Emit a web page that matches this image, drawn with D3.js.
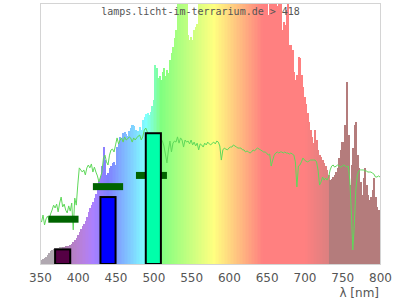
<!DOCTYPE html>
<html><head><meta charset="utf-8">
<script src="https://cdn.jsdelivr.net/npm/d3@7"></script>
<style>body{margin:0;background:#fff}svg{display:block}</style>
</head><body>
<svg id="c" width="400" height="300"></svg>
<script>
// ---- data ----
const specStart = 350, specStep = 2;
// lamp spectrum, relative (100 = top of plot), one value per 2 nm from 350 to 800
const spectrum = [
  1.2, 1.5, 1.9, 2.3, 2.7, 3.5, 4.2, 5.0, 5.4, 5.8,            // 350-368
  6.1, 6.1, 6.1, 6.5, 6.5, 6.5, 6.5, 6.9, 6.9, 6.9,            // 370-388
  7.3, 7.7, 8.4, 9.2, 10.0, 11.1, 12.3, 13.4, 14.6, 15.4,      // 390-408
  16.5, 18.0, 20.0, 21.5, 22.6, 23.8, 25.3, 26.9, 29.2, 31.9,  // 410-428
  33.8, 37.6, 44.9, 39.9, 34.2, 34.9, 36.9, 37.6, 38.8, 39.2,  // 430-448
  38.0, 44.9, 46.4, 48.8, 48.4, 50.3, 50.7, 49.9, 49.1, 51.1,  // 450-468
  52.2, 53.4, 53.0, 51.4, 50.3, 51.1, 52.6, 51.4, 55.3, 56.4,  // 470-488
  57.6, 58.0, 57.2, 58.3, 60.7, 63.0, 76.4, 75.2, 71.4, 72.2,  // 490-508
  70.6, 73.7, 75.2, 72.2, 74.5, 73.3, 78.3, 81.0, 83.3, 86.8,  // 510-528
  89.8, 112, 125, 135, 128, 140, 118, 130, 88, 86,             // 530-548
  87, 86, 90, 91, 92, 105, 118, 130, 142, 150,                 // 550-568
  160, 165, 172, 178, 181, 186, 188, 191, 193, 190,            // 570-588
  188, 185, 184, 181, 177, 176, 170, 168, 164, 161,            // 590-608
  158, 154, 151, 148, 145, 142, 139, 137, 135, 131,            // 610-628
  130, 127, 125, 122, 119, 118, 114, 112, 110, 107,            // 630-648
  106, 95.5, 104, 108, 106, 104, 103, 99, 104, 102,            // 650-668
  89.8, 92.9, 91.7, 97.5, 110, 84.1, 84.1, 82.1, 73.7, 70.6,   // 670-688
  72.6, 79.5, 79.1, 72.6, 67.9, 64.1, 61.4, 58.0, 54.5, 51.4,  // 690-708
  48.8, 46.4, 51.4, 47.6, 43.8, 41.8, 41.1, 39.9, 38.8, 37.6,  // 710-728
  36.1, 34.2, 32.2, 32.6, 33.4, 34.2, 35.3, 36.9, 40.7, 43.8,  // 730-748
  46.8, 40.7, 53.4, 69.9, 49.5, 30.3, 38.0, 44.5, 53.4, 54.5,  // 750-768
  41.8, 36.9, 31.5, 26.5, 33.0, 36.9, 30.3, 26.5, 24.6, 25.7,  // 770-788
  28.4, 33.0, 25.7, 21.9, 20.7, 19.6                           // 790-800
];
// reference (daylight) curve, same grid
const daylight = [
  16.9, 16.1, 18.8, 15.0, 17.3, 18.4, 16.9, 19.2, 20.7, 22.6,  // 350-368
  21.5, 23.0, 20.0, 23.4, 25.7, 21.9, 23.0, 20.7, 19.6, 22.3,  // 370-388
  20.3, 23.4, 13.1, 25.3, 22.6, 30.3, 36.9, 36.1, 35.3, 36.1,  // 390-408
  34.2, 36.9, 38.0, 36.9, 38.4, 35.3, 37.2, 35.3, 33.8, 31.5,  // 410-428
  33.4, 35.3, 40.7, 41.8, 39.2, 38.0, 41.8, 43.8, 44.1, 43.0,  // 430-448
  45.7, 48.4, 46.1, 47.6, 48.4, 46.8, 48.8, 47.6, 48.0, 48.8,  // 450-468
  48.4, 46.8, 48.4, 47.6, 48.4, 49.1, 49.5, 47.6, 48.8, 51.4,  // 470-488
  52.2, 50.7, 49.5, 50.3, 49.1, 49.9, 48.8, 49.5, 48.4, 49.1,  // 490-508
  48.0, 47.2, 45.3, 42.2, 38.8, 43.8, 47.2, 43.0, 46.4, 47.2,  // 510-528
  46.8, 48.8, 46.4, 48.4, 47.6, 44.9, 47.6, 46.8, 47.2, 46.1,  // 530-548
  47.6, 45.7, 46.8, 45.3, 46.4, 43.8, 46.1, 45.7, 44.9, 46.4,  // 550-568
  45.7, 46.8, 46.1, 45.7, 46.4, 46.8, 46.1, 47.2, 46.8, 45.3,  // 570-588
  39.9, 43.8, 44.5, 44.1, 43.8, 44.5, 44.9, 44.9, 45.7, 45.3,  // 590-608
  44.9, 44.5, 44.5, 44.5, 43.8, 43.8, 43.0, 43.4, 43.0, 42.6,  // 610-628
  43.0, 43.8, 43.4, 44.1, 44.5, 44.1, 43.8, 43.4, 43.0, 43.0,  // 630-648
  42.6, 41.8, 42.2, 37.6, 39.9, 41.8, 42.6, 43.0, 42.6, 43.0,  // 650-668
  43.0, 42.6, 43.0, 42.6, 42.6, 42.2, 42.6, 42.2, 41.8, 39.2,  // 670-688
  29.6, 37.6, 38.0, 39.2, 40.7, 39.9, 39.5, 39.2, 39.5, 39.9,  // 690-708
  39.9, 39.9, 39.9, 39.2, 36.1, 30.3, 31.5, 33.4, 32.2, 33.0,  // 710-728
  32.2, 33.4, 36.1, 37.6, 38.0, 37.2, 37.6, 38.0, 37.6, 37.2,  // 730-748
  37.6, 38.0, 37.6, 37.2, 37.6, 32.2, 20.7, 5.4, 15.0, 28.4,   // 750-768
  34.2, 35.7, 36.1, 36.1, 36.1, 35.7, 35.7, 35.3, 35.3, 35.3,  // 770-788
  34.9, 34.5, 33.4, 33.4, 33.8, 33.4                           // 790-800
];
// band bars (outlined)
const bandStart = [370, 430, 490];
const bandEnd   = [390, 450, 510];
const bandValue = [5.6, 25.7, 50.2];
const bandColor = ["#550044", "#0000ff", "#00ffaa"];
// dark green markers
const peakStart = [361, 420, 477];
const peakEnd   = [401, 460, 518];
const peakValue = [17.2, 29.7, 34.0];
const xTicks = [350, 400, 450, 500, 550, 600, 650, 700, 750, 800];
const title = "lamps.licht-im-terrarium.de > 418";
const xLabel = "λ [nm]";

// ---- drawing ----
const svg = d3.select("#c");
const x = d3.scaleLinear().domain([350, 800]).range([40, 380]);
const y = d3.scaleLinear().domain([0, 100]).range([264, 3.5]);

function waveColor(l) {
  if (l >= 733) return "#b47c7c";
  if (l < 380) return "#b0a8b0";
  let r, g, b;
  if (l < 440) { r = (440 - l) / 60; g = 0; b = 1; }
  else if (l < 490) { r = 0; g = (l - 440) / 50; b = 1; }
  else if (l < 510) { r = 0; g = 1; b = (510 - l) / 20; }
  else if (l < 580) { r = (l - 510) / 70; g = 1; b = 0; }
  else if (l < 645) { r = 1; g = (645 - l) / 65; b = 0; }
  else { r = 1; g = 0; b = 0; }
  let f = 1;
  if (l < 420) f = 0.3 + 0.7 * (l - 380) / 40;
  else if (l > 700) f = 0.3 + 0.7 * (780 - l) / 80;
  const c = v => Math.round(128 + 127 * v * f);
  return d3.rgb(c(r), c(g), c(b)).formatHex();
}

svg.append("defs").append("clipPath").attr("id", "plotclip")
  .append("rect").attr("x", 40.5).attr("y", 3.5).attr("width", 340).attr("height", 260.5);

const plot = svg.append("g").attr("clip-path", "url(#plotclip)");

const specData = spectrum.map((v, i) => ({ l: specStart + i * specStep, v }));
plot.append("g").attr("shape-rendering", "crispEdges")
  .selectAll("rect").data(specData).join("rect")
  .attr("x", d => x(d.l - specStep / 2))
  .attr("width", d => x(d.l + specStep / 2) - x(d.l - specStep / 2) + 0.6)
  .attr("y", d => y(d.v))
  .attr("height", d => y(0) - y(d.v))
  .attr("fill", d => waveColor(d.l));

const dayData = daylight.map((v, i) => ({ l: specStart + i * specStep, v }));
plot.append("path").datum(dayData)
  .attr("fill", "none").attr("stroke", "#5fd85a").attr("stroke-width", 1)
  .attr("d", d3.line().x(d => x(d.l)).y(d => y(d.v)));

plot.append("g").selectAll("rect").data(peakValue).join("rect")
  .attr("x", (d, i) => x(peakStart[i]))
  .attr("width", (d, i) => x(peakEnd[i]) - x(peakStart[i]))
  .attr("y", d => y(d) - 3.5)
  .attr("height", 7)
  .attr("fill", "#006400");

plot.append("g").selectAll("rect").data(bandValue).join("rect")
  .attr("x", (d, i) => x(bandStart[i]))
  .attr("width", (d, i) => x(bandEnd[i]) - x(bandStart[i]))
  .attr("y", d => y(d))
  .attr("height", d => y(0) - y(d))
  .attr("fill", (d, i) => bandColor[i])
  .attr("stroke", "#000").attr("stroke-width", 2);

svg.append("rect").attr("x", 40.5).attr("y", 3.5).attr("width", 340).attr("height", 261)
  .attr("fill", "none").attr("stroke", "#d4d4d4").attr("stroke-width", 1);

const ax = svg.append("g").attr("transform", "translate(0,264)")
  .call(d3.axisBottom(x).tickValues(xTicks).tickFormat(d3.format("d")).tickSize(0).tickPadding(9.5));
ax.select(".domain").remove();
ax.selectAll("text").attr("font-family", "DejaVu Sans").attr("font-size", 12).attr("fill", "#555");

svg.append("text").attr("x", 200.5).attr("y", 15).attr("text-anchor", "middle")
  .attr("font-family", "DejaVu Sans Mono").attr("font-size", 10).attr("fill", "#555")
  .text(title);

svg.append("text").attr("x", 379).attr("y", 297).attr("text-anchor", "end")
  .attr("font-family", "DejaVu Sans").attr("font-size", 12).attr("fill", "#555")
  .text(xLabel);
</script>
</body></html>
